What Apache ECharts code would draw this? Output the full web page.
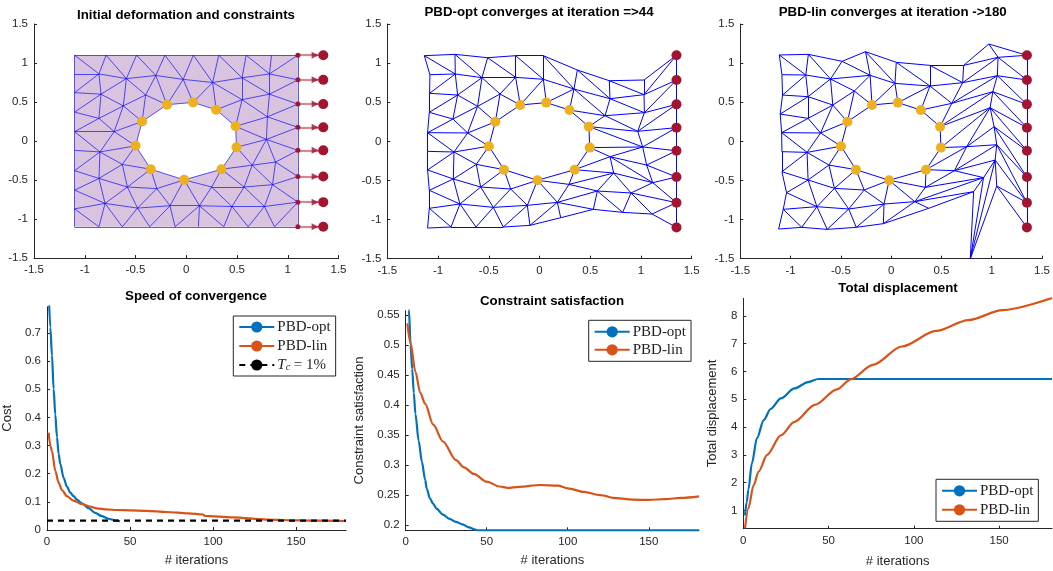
<!DOCTYPE html>
<html><head><meta charset="utf-8">
<style>html,body{margin:0;padding:0;background:#fff}#c{width:1053px;height:571px}</style>
<script src="https://cdn.jsdelivr.net/npm/echarts@6/dist/echarts.min.js"></script>
</head><body><div id="c"></div>
<script>
// ---------- mesh data (all in axis units) ----------
const nodeNames = ['T0','T1','T2','T3','T4','T5','T6','T7','T8','L1','L2','L3','L4','L5','L6','L7','L8','B0',
 'A1','A2','A3','A4','A5','A6','A7','C1','C2','C3','C4','C5','D1','D2','D3','D4','E1','E2','E3','E4',
 'F1','F2','F3','F4','F5','F6','G1','G2','G3','G4','G5','G6','B1','B2','B3','B4','B5','B6','B7','B8'];
const initialNodes = [[-1.1,1.1],[-.79,1.1],[-.49,1.1],[-.21,1.1],[.07,1.1],[.32,1.1],[.59,1.1],[.84,1.1],[1.1,1.1],
 [-1.1,.86],[-1.1,.62],[-1.1,.37],[-1.1,.12],[-1.1,-.12],[-1.1,-.38],[-1.1,-.63],[-1.1,-.87],[-1.1,-1.1],
 [-.86,.86],[-.59,.80],[-.30,.84],[-.03,.79],[.26,.75],[.55,.81],[.82,.86],
 [-.84,.60],[-.62,.45],[-.40,.59],[.55,.53],[.82,.60],
 [-.86,.29],[-.71,.12],[.80,.31],[.79,.02],
 [-.85,-.14],[-.63,-.30],[.65,-.31],[.88,-.27],
 [-.86,-.48],[-.58,-.59],[-.29,-.61],[.25,-.59],[.57,-.59],[.85,-.56],
 [-.80,-.80],[-.48,-.86],[-.16,-.83],[.13,-.83],[.45,-.84],[.77,-.84],
 [-.86,-1.1],[-.63,-1.1],[-.36,-1.1],[-.11,-1.1],[.12,-1.1],[.37,-1.1],[.61,-1.1],[.87,-1.1]];
const optNodes = [[-1.135,1.095],[-.833,1.112],[-.511,1.069],[-.235,1.095],[.038,1.095],[.373,.912],[.688,.775],[1.03,.784],[1.35,1.1],
 [-1.08,.852],[-1.083,.614],[-1.086,.371],[-1.103,.111],[-1.103,-.128],[-1.103,-.366],[-1.086,-.626],[-1.086,-.856],[-1.103,-1.108],
 [-.83,.861],[-.567,.814],[-.235,.818],[.038,.793],[.34,.669],[.695,.545],[1.03,.597],
 [-.807,.592],[-.61,.447],[-.389,.605],[.646,.328],[1.034,.366],
 [-.853,.285],[-.708,.107],[.968,.128],[1.017,-.072],
 [-.843,-.136],[-.623,-.294],[.695,-.196],[1.056,-.303],
 [-.849,-.481],[-.58,-.584],[-.284,-.609],[.291,-.55],[.731,-.405],[1.116,-.528],
 [-.784,-.801],[-.455,-.844],[-.12,-.818],[.176,-.78],[.57,-.635],[.902,-.66],
 [-.872,-1.095],[-.626,-1.095],[-.357,-1.095],[-.094,-1.074],[.209,-.976],[.531,-.869],[.82,-.908],[1.109,-.929]];
const linNodes = [[-1.112,1.104],[-.823,1.112],[-.488,1.023],[-.255,1.146],[.051,1.01],[.386,.971],[.721,.971],[.971,1.244],[1.35,1.1],
 [-1.086,.852],[-1.08,.592],[-1.103,.349],[-1.089,.111],[-1.086,-.132],[-1.086,-.388],[-1.04,-.656],[-1.073,-.869],[-1.119,-1.121],
 [-.849,.848],[-.603,.797],[-.209,.844],[.038,.741],[.386,.707],[.711,.75],[1.063,1.074],
 [-.826,.571],[-.58,.464],[-.366,.643],[.603,.486],[1.056,.839],
 [-.826,.294],[-.702,.107],[1.011,.635],[.984,.43],
 [-.836,-.141],[-.619,-.303],[.751,-.068],[1.024,.187],
 [-.826,-.494],[-.564,-.601],[-.268,-.622],[.34,-.588],[.629,-.375],[1.05,-.043],
 [-.738,-.835],[-.422,-.865],[-.071,-.801],[.235,-.771],[.919,-.464],[1.034,-.239],
 [-.889,-1.099],[-.636,-1.125],[-.347,-1.099],[-.077,-1.052],[.373,-.856],[.82,-.643],[.787,-1.5],[1.05,-.571]];
const holeNodes = [[-.19,.465],[.067,.495],[.295,.40],[.487,.188],[.495,-.08],[.347,-.362],[-.02,-.498],[-.35,-.362],[-.499,-.062],[-.435,.25]];
const anchorY = [.784,.473,.175,-.12,-.456,-.784,-1.1];
const anchorYAll = [1.1,.784,.473,.175,-.12,-.456,-.784,-1.1];
const startX = 1.1, targetX = 1.35, arrowX = 1.27;
const rectCorners = [[-1.1,1.1],[1.1,1.1],[1.1,-1.1],[-1.1,-1.1]];
const edgeList = ('T0-T1 T1-T2 T2-T3 T3-T4 T4-T5 T5-T6 T6-T7 T7-T8 T8-R1 R1-R2 R2-R3 R3-R4 R4-R5 R5-R6 R6-R7 '+
 'B0-B1 B1-B2 B2-B3 B3-B4 B4-B5 B5-B6 B6-B7 B7-B8 B8-R7 T0-L1 L1-L2 L2-L3 L3-L4 L4-L5 L5-L6 L6-L7 L7-L8 L8-B0 '+
 'H0-H1 H1-H2 H2-H3 H3-H4 H4-H5 H5-H6 H6-H7 H7-H8 H8-H9 H9-H0 '+
 'T0-A1 T1-A1 L1-A1 L2-A1 A1-C1 A1-A2 T1-A2 T2-A2 T2-A3 T3-A3 A2-A3 A3-A4 T3-A4 T4-A4 T4-A5 T5-A5 A4-A5 A5-A6 T5-A6 T6-A6 T6-A7 T7-A7 A6-A7 A7-T8 A7-R1 '+
 'A5-C4 A5-H2 A6-C4 A6-C5 A7-C5 C5-R1 C5-R2 C4-C5 C4-D3 C5-D3 D3-R2 D3-R3 C4-H2 C4-H3 H3-D3 H3-D4 D3-D4 D4-R3 D4-R4 D4-E4 E4-R4 E4-R5 D4-E3 H4-D4 H4-E3 H5-E3 E3-E4 E3-F5 E3-F6 E4-F6 F6-R5 F6-R6 F5-F6 F5-F4 H5-F5 H5-F4 H6-F4 F4-G4 F4-G5 F5-G5 F5-G6 F6-G6 G6-R6 G6-B8 G6-B7 B8-R6 G5-B7 G5-B6 G4-B6 G4-B5 G4-B4 G3-B4 G3-B3 G2-B3 G2-B2 G1-B2 G1-B1 L8-B1 L8-G1 L7-G1 F1-G1 F1-L7 F1-L6 F1-E1 F1-E2 F1-F2 G1-F2 G1-G2 F2-G2 F2-F3 F3-G2 F3-G3 G2-G3 G3-G4 G4-G5 G5-G6 H6-G3 H6-G4 H6-F3 H7-F3 H7-F2 E2-F2 E2-H7 E2-H8 E1-E2 E1-H8 L5-E1 L6-E1 L4-E1 E1-D2 D2-L4 D1-L4 D1-D2 D1-L3 D1-C1 D1-C2 L2-C1 L3-C1 C1-C2 C1-A2 C2-A2 A2-C3 A3-C3 C2-C3 C2-H9 C2-D2 D2-H9 D2-H8 C3-H9 C3-H0 A3-H0 A4-H0 A4-H1 A5-H1').split(' ');

// ---------- curve data ----------
const costOpt = [[1,.85],[2,.72],[3,.62],[4,.50],[5,.41],[6,.33],[7,.27],[8,.235],[10,.185],[12,.154],[14,.133],[16,.12],[18,.108],[21,.095],[25,.078],[29,.061],[33,.049],[37,.04],[41,.034],[44,.031]];
const costLin = [[1,.346],[2,.30],[3,.28],[5,.21],[7,.168],[9,.142],[12,.12],[16,.104],[21,.092],[26,.083],[30,.077],[36,.073],[42,.071],[50,.07],[60,.068],[72,.064],[85,.059],[94,.055],[95,.05],[112,.045],[132,.037],[152,.034],[165,.033],[180,.032]];
const thresholdLine = [[0,.033],[180,.033]];
const consOpt = [[1,.60],[2,.558],[3,.50],[4,.46],[5,.42],[6,.385],[8,.34],[10,.305],[12,.275],[13,.26],[15,.244],[17,.235],[19,.227],[23,.217],[27,.21],[31,.205],[35,.201],[39,.196],[43,.192],[44,.191],[181,.191]];
const consLin = [[1,.536],[3,.503],[6,.455],[9,.42],[12,.402],[17,.367],[23,.339],[31,.308],[36,.296],[42,.285],[50,.272],[58,.264],[63,.2617],[70,.2635],[83,.2665],[94,.2655],[100,.261],[110,.255],[120,.2495],[130,.2445],[140,.242],[150,.2417],[160,.243],[170,.245],[181,.2475]];
const dispOpt = [[1,.82],[2,1.3],[3,1.75],[5,2.68],[8,3.6],[12,4.25],[16,4.65],[22,5.03],[30,5.39],[38,5.62],[44,5.73],[181,5.73]];
const dispLin = [[1,.35],[3,1.08],[6,1.9],[9,2.4],[14,3.0],[22,3.7],[30,4.19],[42,4.8],[55,5.36],[63,5.72],[76,6.24],[93,6.9],[113,7.46],[132,7.85],[152,8.21],[181,8.65]];

// ---------- tick labels ----------
const spatialTicks = [-1.5,-1,-.5,0,.5,1,1.5];
const iterTicks = [0,50,100,150];
const costTicks = [0,.1,.2,.3,.4,.5,.6,.7];
const consTicks = [.2,.25,.3,.35,.4,.45,.5,.55];
const dispTicks = [1,2,3,4,5,6,7,8];

const BLUE='#0072BD', ORANGE='#D95319', RED='#A2142F', GOLD='#EDB120', AX='#262626', MESH='#0000FF';

function positions(nodes, rx){
  const m={};
  nodeNames.forEach((n,i)=>m[n]=nodes[i]);
  holeNodes.forEach((p,i)=>m['H'+i]=p);
  anchorY.forEach((y,i)=>m['R'+(i+1)]=[rx,y]);
  return m;
}
function edgesOf(nodes, rx){
  const m=positions(nodes,rx);
  return edgeList.map(e=>{const [a,b]=e.split('-');return {coords:[m[a],m[b]]};});
}
const tickAxis=(vals,extra)=>Object.assign({
  type:'value',
  axisLine:{show:true,onZero:false,lineStyle:{color:AX,width:1}},
  axisTick:{show:true,inside:true,length:3,customValues:vals,lineStyle:{color:AX,width:1}},
  axisLabel:{color:AX,fontSize:11.5,fontFamily:'Liberation Sans',margin:6,customValues:vals,hideOverlap:false},
  splitLine:{show:false}
},extra);
const nameStyle={color:AX,fontSize:13,fontFamily:'Liberation Sans'};

const grids=[
 {left:34,top:24,width:304.5,height:234},
 {left:387.3,top:24,width:304.4,height:234.7},
 {left:740.3,top:24,width:304.4,height:234.7},
 {left:45.7,top:306.7,width:300.3,height:223.3},
 {left:405.7,top:310.7,width:293.3,height:219.6},
 {left:743.3,top:298.3,width:308.7,height:230.4}
];
const xAxis=[
 tickAxis(spatialTicks,{gridIndex:0,min:-1.5,max:1.5}),
 tickAxis(spatialTicks,{gridIndex:1,min:-1.5,max:1.5}),
 tickAxis(spatialTicks,{gridIndex:2,min:-1.5,max:1.5}),
 tickAxis(iterTicks,{gridIndex:3,min:0,max:180,name:'# iterations',nameLocation:'middle',nameGap:24,nameTextStyle:nameStyle}),
 tickAxis(iterTicks,{gridIndex:4,min:0,max:181,name:'# iterations',nameLocation:'middle',nameGap:24,nameTextStyle:nameStyle}),
 tickAxis(iterTicks,{gridIndex:5,min:0,max:181,name:'# iterations',nameLocation:'middle',nameGap:26,nameTextStyle:nameStyle})
];
const yAxis=[
 tickAxis(spatialTicks,{gridIndex:0,min:-1.5,max:1.5}),
 tickAxis(spatialTicks,{gridIndex:1,min:-1.5,max:1.5}),
 tickAxis(spatialTicks,{gridIndex:2,min:-1.5,max:1.5}),
 tickAxis(costTicks,{gridIndex:3,min:0,max:.793,name:'Cost',nameLocation:'middle',nameGap:33,nameTextStyle:nameStyle}),
 tickAxis(consTicks,{gridIndex:4,min:.191,max:.557,name:'Constraint satisfaction',nameLocation:'middle',nameGap:39.7,nameTextStyle:nameStyle}),
 tickAxis(dispTicks,{gridIndex:5,min:.34,max:8.636,name:'Total displacement',nameLocation:'middle',nameGap:24.6,nameTextStyle:nameStyle})
];

const meshSeries=(i,nodes,rx,opacity)=>({type:'lines',coordinateSystem:'cartesian2d',xAxisIndex:i,yAxisIndex:i,polyline:false,silent:true,z:3,
  data:edgesOf(nodes,rx),lineStyle:{color:MESH,width:1,opacity:opacity,curveness:0},symbol:['none','none']});
const dots=(i,data,color,size,z)=>({type:'scatter',xAxisIndex:i,yAxisIndex:i,symbol:'circle',symbolSize:size,silent:true,z:z||5,
  data:data,itemStyle:{color:color,opacity:1}});
const curve=(i,name,data,color)=>({type:'line',name,xAxisIndex:i,yAxisIndex:i,data,showSymbol:false,symbol:'none',smooth:.3,smoothMonotone:'x',silent:true,
  lineStyle:{color,width:2.2},itemStyle:{color}});

const series=[
 {type:'custom',xAxisIndex:0,yAxisIndex:0,silent:true,z:2,data:[[0,0]],
  renderItem:(p,api)=>{
    const outer=rectCorners.concat([rectCorners[0]]);
    const hole=holeNodes.slice().reverse();
    const pts=outer.concat(hole,[hole[0],rectCorners[0]]).map(q=>api.coord(q));
    return {type:'polygon',shape:{points:pts},style:{fill:'#D9C3DF',stroke:null}};
  }},
 meshSeries(0,initialNodes,startX,.65),
 {type:'lines',coordinateSystem:'cartesian2d',xAxisIndex:0,yAxisIndex:0,polyline:false,silent:true,z:4,
  data:anchorYAll.map(y=>({coords:[[startX,y],[targetX,y]]})),lineStyle:{color:RED,width:2.2,curveness:0},symbol:['none','none']},
 {type:'scatter',xAxisIndex:0,yAxisIndex:0,symbol:'triangle',symbolRotate:-90,symbolSize:[7,7],silent:true,z:4,
  data:anchorYAll.map(y=>[arrowX,y]),itemStyle:{color:RED}},
 dots(0,anchorYAll.map(y=>[startX,y]),RED,5),
 dots(0,anchorYAll.map(y=>[targetX,y]),RED,10),
 dots(0,holeNodes,GOLD,10),
 meshSeries(1,optNodes,targetX,1),
 dots(1,anchorYAll.map(y=>[targetX,y]),RED,10),
 dots(1,holeNodes,GOLD,10),
 meshSeries(2,linNodes,targetX,1),
 dots(2,anchorYAll.map(y=>[targetX,y]),RED,10),
 dots(2,holeNodes,GOLD,10),
 curve(3,'PBD-opt',costOpt,BLUE),
 curve(3,'PBD-lin',costLin,ORANGE),
 {type:'line',name:'Tc = 1%',xAxisIndex:3,yAxisIndex:3,data:thresholdLine,showSymbol:false,symbol:'none',silent:true,z:4,
  lineStyle:{color:'#000',width:2.2,type:[6,5]},itemStyle:{color:'#000'}},
 curve(4,'PBD-opt',consOpt,BLUE),
 curve(4,'PBD-lin',consLin,ORANGE),
 curve(5,'PBD-opt',dispOpt,BLUE),
 curve(5,'PBD-lin',dispLin,ORANGE)
];

const titleAt=(text,left,top)=>({text,left,top,textAlign:'center',padding:0,
  textStyle:{color:'#000',fontSize:13.3,fontWeight:'bold',fontFamily:'Liberation Sans'}});
const title=[
 titleAt('Initial deformation and constraints',186,9),
 titleAt('PBD-opt converges at iteration =>44',539,6),
 titleAt('PBD-lin converges at iteration ->180',892.7,6),
 titleAt('Speed of convergence',196,290),
 titleAt('Constraint satisfaction',552,295),
 titleAt('Total displacement',898,282)
];
const legendBase={orient:'vertical',itemWidth:35,itemHeight:14,itemGap:4,selectedMode:false,backgroundColor:'#fff',
  borderColor:AX,borderWidth:1,borderRadius:0,z:20,inactiveColor:'#000',icon:undefined,
  textStyle:{color:'#222',fontFamily:'Liberation Serif',fontSize:15,lineHeight:14,padding:[0,0,0,-2],
    rich:{i:{fontFamily:'Liberation Serif',fontStyle:'italic',fontSize:15,color:'#222'},
          s:{fontFamily:'Liberation Serif',fontStyle:'italic',fontSize:10,color:'#222',verticalAlign:'bottom'},
          n:{fontFamily:'Liberation Serif',fontSize:15,color:'#222'}}},
  formatter:n=>n==='Tc = 1%'?'{i|T}{s|c}{n| = 1%}':n};
const legend=[
 Object.assign({},legendBase,{left:233.3,top:316,padding:[3.5,5,3.5,5],data:['PBD-opt','PBD-lin','Tc = 1%']}),
 Object.assign({},legendBase,{left:588.7,top:320.3,padding:[4,5,4,5],itemGap:3,data:['PBD-opt','PBD-lin']}),
 Object.assign({},legendBase,{left:936,top:479.3,padding:[4,5,4,5],data:['PBD-opt','PBD-lin']})
];
const chart=echarts.init(document.getElementById('c'),null,{renderer:'canvas',width:1053,height:571});
chart.setOption({animation:false,backgroundColor:'#fff',title,grid:grids,xAxis,yAxis,series,legend,tooltip:{show:false}});
</script></body></html>
